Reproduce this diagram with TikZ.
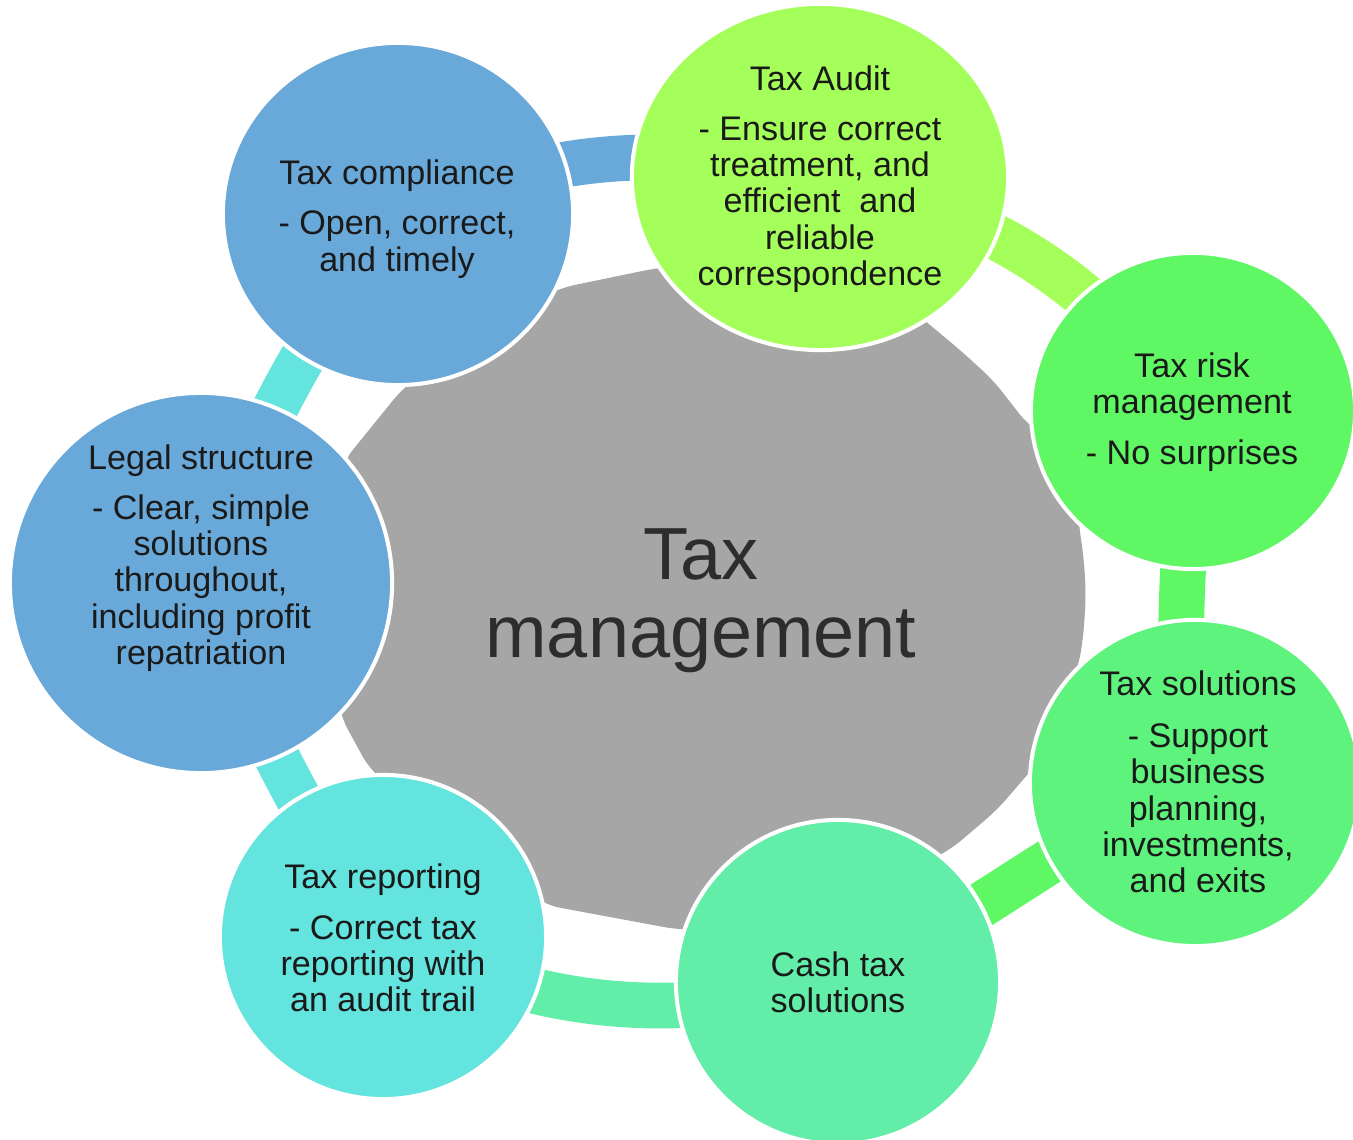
\documentclass[tikz,border=0pt]{standalone}
\usepackage{fontspec}
\setmainfont{Liberation Sans}
\usepackage{xcolor}
\usepackage{tikz}
\usetikzlibrary{shapes.geometric}

\definecolor{biru}{RGB}{105,169,217}
\definecolor{hijaumuda}{RGB}{165,255,90}
\definecolor{hijau}{RGB}{95,248,100}
\definecolor{hijausolusi}{RGB}{94,243,125}
\definecolor{hijaukas}{RGB}{98,237,168}
\definecolor{tosca}{RGB}{99,228,222}
\definecolor{abu}{RGB}{166,166,166}
\definecolor{teks}{RGB}{26,26,26}
\definecolor{judul}{RGB}{45,45,45}

\pgfdeclarelayer{belakang}
\pgfdeclarelayer{tengah}
\pgfsetlayers{belakang,tengah,main}

\begin{document}
\begin{tikzpicture}[x=0.01cm, y=0.01cm,
		lingkaran/.style={ellipse, draw=white, line width=1.15pt, inner sep=0pt},
		isi/.style={text=teks, align=center, font=\fontsize{9.7}{10.3}\selectfont},
		sambung/.style={line width=13pt}]
				\useasboundingbox (0,0) rectangle (1353,-1140);

				% lingkaran luar
				% \node nama [gaya] at (posisi) {};
				\node (comp) [lingkaran, fill=biru, minimum width=3.50cm, minimum height=3.42cm] at (398,-214) {};
				\node (audit) [lingkaran, fill=hijaumuda, minimum width=3.76cm, minimum height=3.46cm] at (820,-177) {};
				\node (risk) [lingkaran, fill=hijau, minimum width=3.24cm, minimum height=3.16cm] at (1193,-411) {};
				\node (sol) [lingkaran, fill=hijausolusi, minimum width=3.30cm, minimum height=3.26cm] at (1195,-783) {};
				\node (cash) [lingkaran, fill=hijaukas, minimum width=3.24cm, minimum height=3.24cm] at (838,-982) {};
				\node (report) [lingkaran, fill=tosca, minimum width=3.26cm, minimum height=3.24cm] at (383,-937) {};
				\node (legal) [lingkaran, fill=biru, minimum width=3.82cm, minimum height=3.80cm] at (201,-583) {};

				% teks di dalam lingkaran
				\node (comp-t) [isi] at (397,-219) {Tax compliance\\[4pt]- Open, correct,\\and timely};
				\node (audit-t) [isi] at (820,-179) {Tax Audit\\[4pt]- Ensure correct\\treatment, and\\efficient~ and\\reliable\\correspondence};
				\node (risk-t) [isi] at (1192,-412) {Tax risk\\management\\[4pt]- No surprises};
				\node (sol-t) [isi] at (1198,-782) {Tax solutions\\[4.5pt]- Support\\business\\planning,\\investments,\\and exits};
				\node (cash-t) [isi] at (838,-982) {Cash tax\\solutions};
				\node (report-t) [isi] at (383,-938) {Tax reporting\\[4pt]- Correct tax\\reporting with\\an audit trail};
				\node (legal-t) [isi] at (201,-558) {Legal structure\\[4pt]- Clear, simple\\solutions\\throughout,\\including profit\\repatriation};

				% judul di tengah
				\node (pusat) [text=judul, align=center, font=\fontsize{21}{22.2}\selectfont] at (701,-601) {Tax\\management};

				% bentuk abu-abu di belakang
				\begin{pgfonlayer}{belakang}
				\fill [abu, rounded corners=0.15cm] (343,-462) -- (403,-388) -- (480,-330) -- (560,-288) -- (657,-268) -- (760,-258)
					-- (900,-300) -- (960,-350) -- (993,-380) -- (1028,-425) -- (1050,-440) -- (1075,-480)
					-- (1079,-525) -- (1084,-560) -- (1086,-597) -- (1083,-640) -- (1078,-668) -- (1040,-760)
					-- (997,-810) -- (950,-850) -- (800,-925) -- (680,-930) -- (545,-905) -- (370,-770)
					-- (340,-715) -- (330,-590) -- cycle;
				\end{pgfonlayer}

				% garis penghubung
				% \draw [opsi] (nama) to (nama);
				\begin{pgfonlayer}{tengah}
				\draw [sambung, biru] (comp.center) to [bend left=17] (audit.center);
				\draw [sambung, hijaumuda] (audit.center) to [bend left=20] (risk.center);
				\draw [sambung, hijau] (risk.center) .. controls +(-5,-117) and +(-27,123) .. (sol.center);
				\draw [sambung, hijau] (sol.center) .. controls +(-90,-28) and +(90,28) .. (cash.center);
				\draw [sambung, hijaukas] (cash.center) to [bend left=19] (report.center);
				\draw [sambung, tosca] (report.center) to [bend left=6] (legal.center);
				\draw [sambung, tosca] (legal.center) to [bend left=8] (comp.center);
				\end{pgfonlayer}
			\end{tikzpicture}
\end{document}
